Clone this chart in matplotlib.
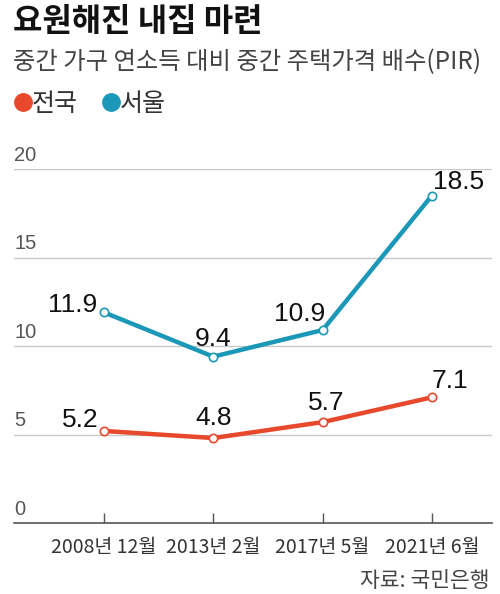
import matplotlib
matplotlib.use("Agg")
import matplotlib.pyplot as plt
import matplotlib.transforms as mtransforms
from matplotlib.lines import Line2D

categories = ["2008년 12월", "2013년 2월", "2017년 5월", "2021년 6월"]
national = [5.2, 4.8, 5.7, 7.1]
seoul = [11.9, 9.4, 10.9, 18.5]
yticks = [0, 5, 10, 15, 20]
title = "요원해진 내집 마련"
subtitle = "중간 가구 연소득 대비 중간 주택가격 배수(PIR)"
legend_labels = ["전국", "서울"]
source = "자료: 국민은행"

RED = "#E8482B"
TEAL = "#1B98B8"
KR = ["Noto Sans CJK KR", "DejaVu Sans"]
NUM = ["Liberation Sans Narrow", "Liberation Sans", "DejaVu Sans"]

plt.rcParams["font.family"] = KR

fig = plt.figure(figsize=(5.0, 5.94), dpi=100)
ax = fig.add_axes([0.028, 1 - 523 / 594, 0.956, (523 - 169) / 594])

x = list(range(len(categories)))
ax.set_xlim(-0.823, 3.55)
ax.set_ylim(0, 20)

for v in yticks[1:]:
    ax.axhline(v, color="#c8c8c8", lw=1.0, zorder=1)

ax.plot(x, seoul, color=TEAL, lw=3.2, marker="o", ms=6, mfc="white",
        mec=TEAL, mew=1.2, zorder=3, clip_on=False, solid_capstyle="round")
ax.plot(x, national, color=RED, lw=3.2, marker="o", ms=6, mfc="white",
        mec=RED, mew=1.2, zorder=3, clip_on=False, solid_capstyle="round")

# data labels
def lab(xi, yi, txt, dx, dy, ha):
    ax.annotate(txt, (xi, yi), xytext=(dx, dy), textcoords="offset points",
                ha=ha, va="bottom", fontsize=19, family=NUM, color="#111111",
                zorder=4)

ha_list = ["right", "center", "right", "left"]
dx_s = [-5, 0, 2, 1]
dy_s = [-3, 4, 3, 1]
for i in x:
    lab(x[i], seoul[i], f"{seoul[i]:.1f}", dx_s[i], dy_s[i], ha_list[i])
ha_n = ["right", "center", "center", "left"]
dx_n = [-4, 0, 3, 0]
dy_n = [-1, 6, 5, 3]
for i in x:
    lab(x[i], national[i], f"{national[i]:.1f}", dx_n[i], dy_n[i], ha_n[i])

# y tick labels
trans = mtransforms.blended_transform_factory(ax.transAxes, ax.transData)
for v in yticks:
    ax.annotate(str(v), (0, v), xycoords=trans, xytext=(0, 3),
                textcoords="offset points", ha="left", va="bottom",
                fontsize=14.5, family=NUM, color="#555555")

ax.set_yticks([])
ax.set_xticks(x)
ax.set_xticklabels(categories, fontsize=14, color="#333333")
ax.tick_params(axis="x", direction="in", length=7, width=1, color="#555555",
               pad=10)
for s in ["top", "right", "left"]:
    ax.spines[s].set_visible(False)
ax.spines["bottom"].set_color("#555555")
ax.spines["bottom"].set_linewidth(1.2)
ax.set_facecolor("none")

fig.text(0.026, 1 - 6 / 594, title, fontsize=23, fontweight="bold",
         color="#111111", va="top", ha="left")
fig.text(0.026, 1 - 49 / 594, subtitle, fontsize=17.5, color="#444444",
         va="top", ha="left")

# legend
leg_handles = [Line2D([], [], ls="", marker="o", ms=12.5, color=RED),
               Line2D([], [], ls="", marker="o", ms=12.5, color=TEAL)]
fig.legend(leg_handles, legend_labels, loc="upper left",
           bbox_to_anchor=(0.018, 1 - 91 / 594), ncol=2, frameon=False,
           fontsize=18, handletextpad=-0.2, columnspacing=0.8,
           handlelength=1.1, borderpad=0, borderaxespad=0,
           labelcolor="#333333")

fig.text(0.98, 1 - 592 / 594, source, fontsize=15.5, color="#444444",
         va="bottom", ha="right")

fig.savefig("out.png", dpi=100)
